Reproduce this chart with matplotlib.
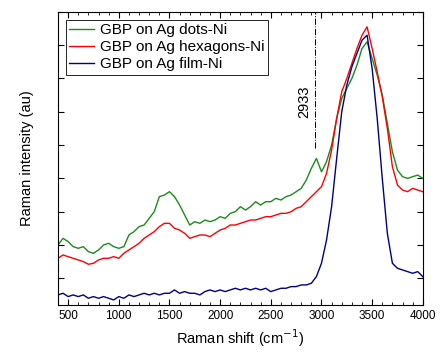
import numpy as np
import matplotlib
matplotlib.use('Agg')
import matplotlib.pyplot as plt
from matplotlib.ticker import MultipleLocator

plt.rcParams['font.family'] = ['Liberation Sans', 'DejaVu Sans']

# Raman shift grid (cm^-1), one value every 50
shift = np.arange(400, 4001, 50)

dots_ni = [1.0, 1.2, 1.1, 0.95, 0.9, 0.95, 0.8, 0.75, 0.85, 1.0,
           1.05, 0.95, 0.9, 0.95, 1.3, 1.4, 1.55, 1.6, 1.8, 2.0,
           2.45, 2.5, 2.6, 2.45, 2.2, 1.9, 1.6, 1.7, 1.65, 1.75,
           1.7, 1.75, 1.85, 1.8, 1.95, 2.0, 2.15, 2.05, 2.15, 2.3,
           2.2, 2.3, 2.3, 2.4, 2.35, 2.45, 2.5, 2.6, 2.7, 2.95,
           3.3, 3.6, 3.2, 3.5, 4.0, 4.8, 5.4, 5.7, 6.0, 6.4,
           6.9, 7.1, 6.6, 6.1, 5.5, 4.65, 3.8, 3.25, 3.05, 3.0,
           3.05, 3.1, 3.0]

hexagons_ni = [0.6, 0.7, 0.65, 0.6, 0.55, 0.5, 0.42, 0.45, 0.55, 0.6,
               0.6, 0.65, 0.6, 0.75, 0.85, 0.95, 1.05, 1.2, 1.3, 1.4,
               1.55, 1.65, 1.65, 1.5, 1.45, 1.35, 1.2, 1.25, 1.3, 1.3,
               1.25, 1.35, 1.45, 1.5, 1.6, 1.6, 1.65, 1.7, 1.75, 1.75,
               1.8, 1.85, 1.85, 1.9, 1.95, 1.95, 2.0, 2.1, 2.15, 2.3,
               2.45, 2.6, 2.75, 3.15, 3.85, 4.8, 5.6, 6.0, 6.45, 6.9,
               7.3, 7.55, 6.9, 6.2, 5.45, 4.5, 3.35, 2.8, 2.65, 2.6,
               2.7, 2.65, 2.6]

film_ni = [-0.5, -0.45, -0.55, -0.5, -0.55, -0.5, -0.6, -0.55, -0.6, -0.55,
           -0.6, -0.65, -0.55, -0.6, -0.5, -0.55, -0.5, -0.45, -0.5, -0.45,
           -0.5, -0.45, -0.45, -0.35, -0.45, -0.4, -0.45, -0.45, -0.5, -0.4,
           -0.35, -0.4, -0.35, -0.4, -0.35, -0.3, -0.35, -0.3, -0.35, -0.3,
           -0.35, -0.3, -0.4, -0.35, -0.3, -0.3, -0.25, -0.25, -0.2, -0.2,
           -0.15, 0.05, 0.45, 1.15, 2.15, 3.6, 5.0, 5.8, 6.35, 6.75,
           7.15, 7.3, 6.3, 4.8, 3.0, 1.35, 0.45, 0.3, 0.25, 0.2,
           0.15, 0.2, 0.05]

labels = ['GBP on Ag dots-Ni', 'GBP on Ag hexagons-Ni', 'GBP on Ag film-Ni']
colors = ['#1a8c1a', '#ff0000', '#000080']
marker_pos = 2933

fig = plt.figure(figsize=(4.46, 3.6), dpi=100)
ax = fig.add_axes([0.130, 0.153, 0.818, 0.814])

for y, lab, c in zip([dots_ni, hexagons_ni, film_ni], labels, colors):
    ax.plot(shift, y, color=c, lw=1.0, label=lab)

ax.axvline(marker_pos, ymin=(3.9 + 0.8) / 8.8, ymax=1, color='black',
           lw=0.7, linestyle='-.')
ax.text(marker_pos - 30, 5.3, str(marker_pos), rotation=90, ha='right',
        va='center', fontsize=10.5)

ax.set_xlim(400, 4000)
ax.set_ylim(-0.8, 8.0)
ax.xaxis.set_major_locator(MultipleLocator(500))
ax.xaxis.set_minor_locator(MultipleLocator(100))
ax.yaxis.set_major_locator(MultipleLocator(1))
ax.set_yticklabels([])
ax.tick_params(which='both', direction='in', top=True, right=True, labelsize=8.5)
ax.tick_params(which='major', length=4)
ax.tick_params(which='minor', length=2)

ax.set_xlabel('Raman shift (cm$^{-1}$)', fontsize=10.5)
ax.set_ylabel('Raman intensity (au)', fontsize=10.5, labelpad=14)

leg = ax.legend(loc='upper left', fontsize=11, handlelength=1.6,
                handletextpad=0.4, borderpad=0.25, labelspacing=0.2,
                fancybox=False, edgecolor='black', framealpha=1,
                borderaxespad=0.5)
leg.get_frame().set_linewidth(0.6)

fig.savefig('out.png', dpi=100)
